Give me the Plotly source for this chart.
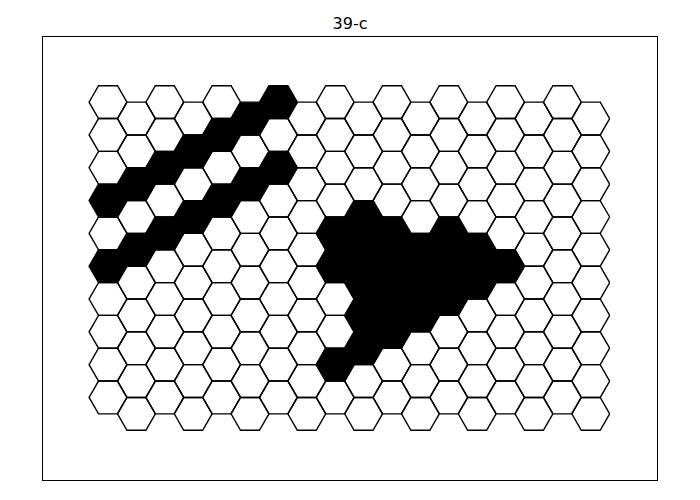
import math
import plotly.graph_objects as go

# Hex grid state (rows top->bottom, columns left->right); 1 = filled black
state_rows = [
    [0,0,0,0,0,1,1,0,0,0,0,0,0,0,0,0,0,0],
    [0,0,0,1,1,0,0,0,0,0,0,0,0,0,0,0,0,0],
    [0,1,1,0,0,1,1,0,0,0,0,0,0,0,0,0,0,0],
    [1,0,0,1,1,0,0,0,0,1,0,0,0,0,0,0,0,0],
    [0,1,1,0,0,0,0,0,1,1,1,1,1,1,0,0,0,0],
    [1,0,0,0,0,0,0,0,1,1,1,1,1,1,1,0,0,0],
    [0,0,0,0,0,0,0,0,0,1,1,1,1,0,0,0,0,0],
    [0,0,0,0,0,0,0,0,0,1,1,0,0,0,0,0,0,0],
    [0,0,0,0,0,0,0,0,1,0,0,0,0,0,0,0,0,0],
    [0,0,0,0,0,0,0,0,0,0,0,0,0,0,0,0,0,0],
]
title_text = "39-c"

S3 = math.sqrt(3)

def hex_path(c, r):
    cx = 1.5 * c
    cy = -S3 * (r + 0.5 * (c % 2))
    xs, ys = [], []
    for k in range(7):
        a = math.radians(60 * (k % 6))
        xs.append(cx + math.cos(a))
        ys.append(cy + math.sin(a))
    return xs, ys

wx, wy, bx, by = [], [], [], []
for r, row in enumerate(state_rows):
    for c, v in enumerate(row):
        xs, ys = hex_path(c, r)
        if v:
            bx += xs + [None]; by += ys + [None]
        else:
            wx += xs + [None]; wy += ys + [None]

fig = go.Figure()
fig.add_trace(go.Scatter(x=wx, y=wy, mode="lines", fill="toself", fillcolor="white",
                         line=dict(color="black", width=1.4), hoverinfo="skip", showlegend=False))
fig.add_trace(go.Scatter(x=bx, y=by, mode="lines", fill="toself", fillcolor="black",
                         line=dict(color="black", width=1.4), hoverinfo="skip", showlegend=False))

fig.update_layout(
    width=700, height=500,
    margin=dict(l=43, r=43, t=37, b=20),
    paper_bgcolor="white", plot_bgcolor="white",
    title=dict(text=title_text, x=0.5, xanchor="center", xref="paper",
               y=1 - 23 / 500, yanchor="middle", yref="container",
               font=dict(family="DejaVu Sans", size=16, color="black")),
)
fig.update_xaxes(range=[-3.434, 29.0], showgrid=False, zeroline=False, showticklabels=False,
                 ticks="", showline=True, mirror=True, linecolor="black", linewidth=1.1)
fig.update_yaxes(range=[-19.947, 3.439], showgrid=False, zeroline=False, showticklabels=False,
                 ticks="", showline=True, mirror=True, linecolor="black", linewidth=1.1)

fig.write_html("out.html", config={"displayModeBar": False},
               post_script="document.body.style.margin='0px';")
